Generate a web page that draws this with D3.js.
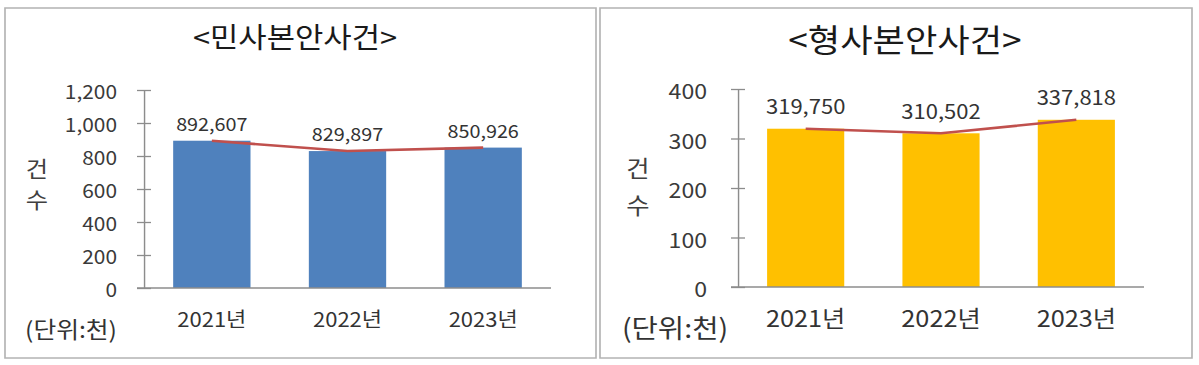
<!DOCTYPE html>
<html>
<head>
<meta charset="utf-8">
<script src="https://cdn.jsdelivr.net/npm/d3@7"></script>
<style>
	body{margin:0;background:#fff;}
	text{font-family:"Noto Sans CJK KR","Noto Sans",sans-serif;fill:#404040;}
</style>
</head>
<body>
<div id="container"></div>
<script>
const years=["2021년", "2022년", "2023년"];
const civilValues=[892.607, 829.897, 850.926];     // 천 건
const criminalValues=[319.750, 310.502, 337.818];
const civilTicks=[0, 200, 400, 600, 800, 1000, 1200];
const criminalTicks=[0, 100, 200, 300, 400];
const titles=["<민사본안사건>", "<형사본안사건>"];
const unitLabel="(단위:천)";
const yLabel=["건", "수"];

const w=1199;
const h=365;
const sx=1.1; // the reference picture is a little stretched sideways
const X=px => px/sx;

const svg=d3.select("#container").append("svg").attr("width", w).attr("height", h);
const root=svg.append("g").attr("transform", `scale(${sx},1)`);

const panels=[
	{left:5, right:596, title:titles[0], titleX:295, titleY:36, titleSize:28,
	 axisX:144, plotRight:551, top:90, bottom:288, values:civilValues, ticks:civilTicks,
	 fill:"#4F81BD", tickFont:19, tickOff:27, labelFont:18, labelOff:18, yearFont:20,
	 ylX:37, ylY:[167, 199], ylFont:22, unitX:71, unitY:328, unitFont:22.5},
	{left:600, right:1192, title:titles[1], titleX:905, titleY:38, titleSize:32,
	 axisX:738, plotRight:1144, top:89, bottom:287, values:criminalValues, ticks:criminalTicks,
	 fill:"#FFC000", tickFont:21, tickOff:31, labelFont:20, labelOff:23, yearFont:23,
	 ylX:638, ylY:[167, 204], ylFont:23, unitX:675, unitY:327, unitFont:26}
];

panels.forEach(p => {
	const g=root.append("g");

	g.append("rect")
		.attr("x", X(p.left)).attr("y", 8)
		.attr("width", X(p.right-p.left)).attr("height", 350)
		.attr("fill", "none").attr("stroke", "#b3b3b3").attr("stroke-width", 1.5);

	g.append("text")
		.attr("x", X(p.titleX)).attr("y", p.titleY)
		.attr("text-anchor", "middle").attr("dominant-baseline", "central")
		.style("font-size", p.titleSize+"px").style("fill", "#1a1a1a")
		.text(p.title);

	const xScale=d3.scaleBand()
		.domain(years)
		.range([X(p.axisX), X(p.plotRight)])
		.paddingInner(0.43)
		.paddingOuter(0.215);

	const yScale=d3.scaleLinear()
		.domain([0, d3.max(p.ticks)])
		.range([p.bottom, p.top]);

	// bars
	g.selectAll("rect.bar")
		.data(p.values)
		.enter()
		.append("rect")
			.attr("class", "bar")
			.attr("x", (d, i) => xScale(years[i]))
			.attr("y", d => yScale(d))
			.attr("width", xScale.bandwidth())
			.attr("height", d => yScale(0)-yScale(d))
			.attr("fill", p.fill);

	// y axis, cross ticks
	const yAxis=d3.axisLeft(yScale)
		.tickValues(p.ticks)
		.tickFormat(d3.format(","))
		.tickSizeInner(X(7))
		.tickSizeOuter(0)
		.tickPadding(X(p.tickOff-7));
	const yAxisGroup=g.append("g").attr("transform", `translate(${X(p.axisX)},0)`).call(yAxis);
	yAxisGroup.select(".domain").attr("stroke", "#8c8c8c").attr("stroke-width", 1.3);
	yAxisGroup.selectAll(".tick line").attr("x1", X(7)).attr("stroke", "#8c8c8c").attr("stroke-width", 1.3);
	yAxisGroup.selectAll(".tick text")
		.style("font-size", p.tickFont+"px").style("fill", "#3a3a3a")
		.attr("dy", null).attr("dominant-baseline", "central");

	// x axis
	const xAxis=d3.axisBottom(xScale).tickSize(0).tickPadding(22);
	const xAxisGroup=g.append("g").attr("transform", `translate(0,${yScale(0)})`).call(xAxis);
	xAxisGroup.select(".domain").remove();
	xAxisGroup.selectAll(".tick text")
		.attr("y", 30).attr("dy", null).attr("dominant-baseline", "central")
		.style("font-size", p.yearFont+"px").style("fill", "#333");
	g.append("line")
		.attr("x1", X(p.axisX-7)).attr("x2", X(p.plotRight))
		.attr("y1", yScale(0)).attr("y2", yScale(0))
		.attr("stroke", "#8c8c8c").attr("stroke-width", 1.5);

	// trend line
	const line=d3.line()
		.x((d, i) => xScale(years[i])+xScale.bandwidth()/2)
		.y(d => yScale(d));
	g.append("path")
		.datum(p.values)
		.attr("d", line)
		.attr("fill", "none")
		.attr("stroke", "#C0504D")
		.attr("stroke-width", 2.6);

	// value labels
	g.selectAll("text.val")
		.data(p.values)
		.enter()
		.append("text")
			.attr("class", "val")
			.attr("x", (d, i) => xScale(years[i])+xScale.bandwidth()/2)
			.attr("y", d => yScale(d)-p.labelOff)
			.attr("text-anchor", "middle").attr("dominant-baseline", "central")
			.style("font-size", p.labelFont+"px").style("fill", "#333")
			.text(d => d3.format(",")(Math.round(d*1000)));

	// axis title, stacked
	g.selectAll("text.yl")
		.data(yLabel)
		.enter()
		.append("text")
			.attr("class", "yl")
			.attr("x", X(p.ylX))
			.attr("y", (d, i) => p.ylY[i])
			.attr("text-anchor", "middle").attr("dominant-baseline", "central")
			.style("font-size", p.ylFont+"px").style("fill", "#404040")
			.text(d => d);

	g.append("text")
		.attr("x", X(p.unitX)).attr("y", p.unitY)
		.attr("text-anchor", "middle").attr("dominant-baseline", "central")
		.style("font-size", p.unitFont+"px").style("fill", "#333")
		.text(unitLabel);
});
</script>
</body>
</html>
